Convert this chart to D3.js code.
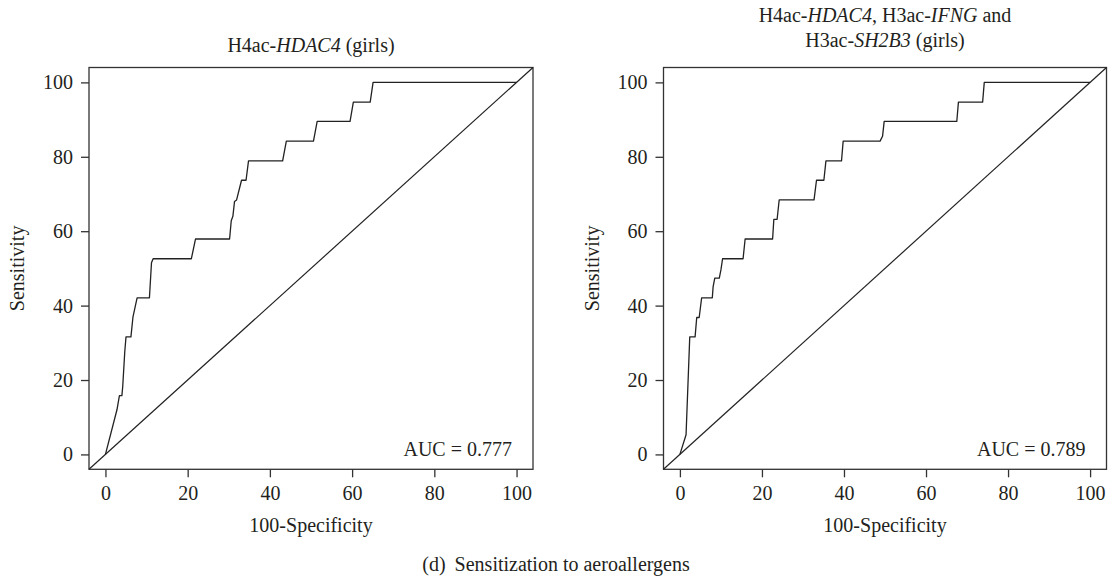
<!DOCTYPE html>
<html>
<head>
<meta charset="utf-8">
<script src="https://cdn.jsdelivr.net/npm/d3@7"></script>
<style>
  body { margin: 0; background: #fff; }
  svg { display: block; }
  text { font-family: "Liberation Serif", "DejaVu Serif", serif; fill: #231f20; }
</style>
</head>
<body>
<svg id="chart" width="1109" height="579"></svg>
<script>
// tick values shared by both panels
var axisTicks = [0, 20, 40, 60, 80, 100];

// H4ac-HDAC4 (girls): 100-specificity vs sensitivity
var hdac4Fpr  = [0, 2.8, 3.4, 4.0, 4.2, 4.7, 5.0, 6.2, 6.7, 7.7, 10.7, 11.2, 11.6, 20.9, 21.9, 30.2, 30.6, 31.0, 31.4, 31.9, 33.1, 34.2, 34.8, 43.1, 44.0, 50.6, 51.5, 59.5, 60.3, 64.4, 65.1, 100];
var hdac4Sens = [0, 12.0, 15.8, 15.8, 18.2, 27.6, 31.6, 31.6, 37.0, 42.1, 42.1, 51.5, 52.6, 52.6, 57.9, 57.9, 62.8, 64.0, 68.0, 68.4, 73.7, 73.7, 78.9, 78.9, 84.2, 84.2, 89.5, 89.5, 94.7, 94.7, 100, 100];

// H4ac-HDAC4, H3ac-IFNG and H3ac-SH2B3 (girls)
var comboFpr  = [0, 1.5, 2.4, 3.7, 4.1, 4.7, 5.3, 7.9, 8.1, 8.5, 9.6, 10.0, 10.4, 15.4, 15.9, 22.6, 22.9, 23.7, 24.2, 32.7, 33.3, 35.1, 35.6, 39.4, 39.8, 48.8, 49.4, 49.8, 67.5, 67.9, 73.8, 74.2, 100];
var comboSens = [0, 5.3, 31.6, 31.6, 36.8, 36.8, 42.1, 42.1, 45.1, 47.4, 47.4, 49.6, 52.6, 52.6, 57.9, 57.9, 63.2, 63.2, 68.4, 68.4, 73.7, 73.7, 78.9, 78.9, 84.2, 84.2, 85.5, 89.5, 89.5, 94.7, 94.7, 100, 100];

// title pieces: [text, italic]
var hdac4Title = [[["H4ac-", 0], ["HDAC4", 1], [" (girls)", 0]]];
var comboTitle = [
    [["H4ac-", 0], ["HDAC4", 1], [", H3ac-", 0], ["IFNG", 1], [" and", 0]],
    [["H3ac-", 0], ["SH2B3", 1], [" (girls)", 0]]
];
var hdac4Auc = "AUC = 0.777";
var comboAuc = "AUC = 0.789";

var svg = d3.select("#chart");
var fontSize = 20;
var ink = "#231f20";

/* draw one ROC panel */
function rocPanel(left, right, fpr, sens, titleLines, aucText) {
    var top = 67.5, bottom = 469.3;
    var x = d3.scaleLinear().domain([-4, 104]).range([left, right]);
    var y = d3.scaleLinear().domain([-4, 104]).range([bottom, top]);
    var g = svg.append("g");

    // x axis ticks
    var xa = g.append("g")
        .attr("transform", "translate(0," + bottom + ")")
        .call(d3.axisBottom(x).tickValues(axisTicks).tickSize(8).tickSizeOuter(0).tickPadding(8.5));
    // y axis ticks
    var ya = g.append("g")
        .attr("transform", "translate(" + left + ",0)")
        .call(d3.axisLeft(y).tickValues(axisTicks).tickSize(8).tickSizeOuter(0).tickPadding(8));
    [xa, ya].forEach(function(a) {
        a.select(".domain").remove();
        a.attr("font-family", null).attr("font-size", null);
        a.selectAll("line").attr("stroke", "#333").attr("stroke-width", 1.3);
        a.selectAll("text").attr("fill", ink).style("font-size", fontSize + "px");
    });

    // frame
    g.append("rect")
        .attr("x", left).attr("y", top)
        .attr("width", right - left).attr("height", bottom - top)
        .attr("fill", "none").attr("stroke", "#333").attr("stroke-width", 1.3);

    // chance diagonal
    g.append("line")
        .attr("x1", x(-4)).attr("y1", y(-4))
        .attr("x2", x(104)).attr("y2", y(104))
        .attr("stroke", "#222").attr("stroke-width", 1.2);

    // roc curve
    var pts = fpr.map(function(d, i) { return [d, sens[i]]; });
    var line = d3.line().x(d => x(d[0])).y(d => y(d[1]));
    g.append("path")
        .datum(pts)
        .attr("d", line)
        .attr("fill", "none")
        .attr("stroke", "#222")
        .attr("stroke-width", 1.3)
        .attr("stroke-linejoin", "round");

    // AUC
    g.append("text")
        .attr("x", right - 21).attr("y", 456)
        .attr("text-anchor", "end")
        .style("font-size", fontSize + "px")
        .text(aucText);

    // axis titles
    var cx = (left + right) / 2;
    g.append("text")
        .attr("x", cx).attr("y", 532)
        .attr("text-anchor", "middle")
        .style("font-size", fontSize + "px")
        .text("100-Specificity");
    g.append("text")
        .attr("transform", "translate(" + (left - 65) + "," + ((top + bottom) / 2) + ") rotate(-90)")
        .attr("text-anchor", "middle")
        .style("font-size", fontSize + "px")
        .text("Sensitivity");

    // title: one line sits just above the frame, two lines are lifted a bit
    var n = titleLines.length;
    var base = n > 1 ? 47 : 52;
    titleLines.forEach(function(parts, i) {
        var t = g.append("text")
            .attr("x", cx).attr("y", base - (n - 1 - i) * 25)
            .attr("text-anchor", "middle")
            .style("font-size", fontSize + "px");
        parts.forEach(function(p) {
            t.append("tspan")
                .style("font-style", p[1] ? "italic" : "normal")
                .text(p[0]);
        });
    });
}

rocPanel(89, 533, hdac4Fpr, hdac4Sens, hdac4Title, hdac4Auc);
rocPanel(663.5, 1106.5, comboFpr, comboSens, comboTitle, comboAuc);

/* figure caption */
var cap = svg.append("text")
    .attr("x", 556).attr("y", 571)
    .attr("text-anchor", "middle")
    .style("font-size", fontSize + "px");
cap.append("tspan").text("(d)");
cap.append("tspan").attr("dx", 9).text("Sensitization to aeroallergens");
</script>
</body>
</html>
